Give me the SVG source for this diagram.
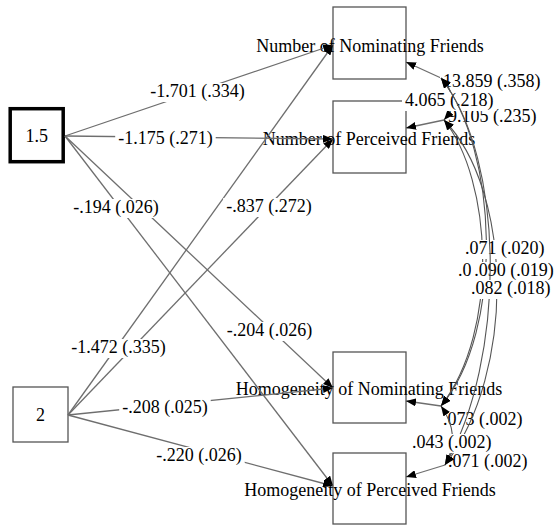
<svg xmlns="http://www.w3.org/2000/svg" width="557" height="527" viewBox="0 0 557 527">
<style>
text{font-family:"Liberation Serif","Times New Roman",serif;font-size:18px;fill:#000}
.box{fill:#fff;stroke:#555;stroke-width:1.3}
.thick{fill:#fff;stroke:#000;stroke-width:3.5}
.e{fill:none;stroke:#6e6e6e;stroke-width:1.3;marker-end:url(#ah)}
.c{fill:none;stroke:#555;stroke-width:1.1;marker-start:url(#ah);marker-end:url(#ah)}
.bg{fill:#fff}
.m{text-anchor:middle}
</style>
<defs>
<marker id="ah" viewBox="0 0 10 8" refX="10" refY="4" markerWidth="10" markerHeight="8" markerUnits="userSpaceOnUse" orient="auto-start-reverse"><path d="M0,0 L10,4 L0,8 z" fill="#000"/></marker>
</defs>
<g id="nodes">
<g id="n15"><rect class="thick" x="10.2" y="108.7" width="53" height="53"/><text class="m" x="36.7" y="142">1.5</text></g>
<g id="n2"><rect class="box" x="13" y="387" width="55" height="55"/><text class="m" x="40.5" y="421">2</text></g>
<g id="nnf"><rect class="box" x="333" y="7" width="73" height="72"/><text class="m" x="370" y="52">Number of Nominating Friends</text></g>
<g id="npf"><rect class="box" x="333" y="101" width="73" height="72"/><text class="m" x="369" y="145">Number of Perceived Friends</text></g>
<g id="hnf"><rect class="box" x="333" y="352" width="73" height="71"/><text class="m" x="369" y="395">Homogeneity of Nominating Friends</text></g>
<g id="hpf"><rect class="box" x="333" y="453" width="73" height="71"/><text class="m" x="370" y="496">Homogeneity of Perceived Friends</text></g>
</g>
<g id="connectors">
<path class="e" d="M65,136 L333,45"/>
<path class="e" d="M65,136 L333,139"/>
<path class="e" d="M65,136 L333,388"/>
<path class="e" d="M65,136 L333,486"/>
<path class="e" d="M68,415 L333,45"/>
<path class="e" d="M68,415 L333,139"/>
<path class="e" d="M68,415 L333,388"/>
<path class="e" d="M68,415 L333,486"/>
<rect class="bg" x="147.2" y="83" width="100.5" height="19"/><text class="m" x="197.5" y="97">-1.701 (.334)</text>
<rect class="bg" x="115.2" y="130" width="100.5" height="19"/><text class="m" x="165.5" y="144">-1.175 (.271)</text>
<rect class="bg" x="223.7" y="322" width="91.5" height="19"/><text class="m" x="269.5" y="336">-.204 (.026)</text>
<rect class="bg" x="70.2" y="199" width="91.5" height="19"/><text class="m" x="116" y="213">-.194 (.026)</text>
<rect class="bg" x="68.2" y="339" width="100.5" height="19"/><text class="m" x="118.5" y="353">-1.472 (.335)</text>
<rect class="bg" x="223.2" y="198" width="91.5" height="19"/><text class="m" x="269" y="212">-.837 (.272)</text>
<rect class="bg" x="119.2" y="399" width="91.5" height="19"/><text class="m" x="165" y="413">-.208 (.025)</text>
<rect class="bg" x="153.2" y="447" width="91.5" height="19"/><text class="m" x="199" y="461">-.220 (.026)</text>

<path class="e" d="M441,78 L406,62"/>
<path class="e" d="M444,120 L406,128"/>
<path class="e" d="M441,406 L406,401"/>
<path class="e" d="M445,465 L406,477"/>
<rect class="bg" x="440" y="73" width="103.5" height="19"/><text class="m" x="491.75" y="87">13.859 (.358)</text>
<rect class="bg" x="445" y="108" width="94.5" height="19"/><text class="m" x="492.25" y="122">9.105 (.235)</text>
<rect class="bg" x="440" y="411" width="85.5" height="19"/><text class="m" x="482.75" y="425">.073 (.002)</text>
<rect class="bg" x="445" y="453" width="85.5" height="19"/><text class="m" x="487.75" y="467">.071 (.002)</text>

<path class="c" d="M441,78 Q462,99 444,120"/>
<rect class="bg" x="402" y="92" width="94.5" height="19"/><text class="m" x="449.25" y="106">4.065 (.218)</text>

<path class="c" d="M441,78 C498,150 505,330 441,406"/>
<path class="c" d="M444,120 C492,180 500,330 441,406"/>
<path class="c" d="M444,120 C512,190 517,370 445,465"/>
<text x="458" y="276">.07</text>
<rect class="bg" x="462" y="240" width="85.5" height="19"/><text class="m" x="504.75" y="254">.071 (.020)</text>
<rect class="bg" x="471.5" y="262" width="85.5" height="19"/><text class="m" x="514" y="276">.090 (.019)</text>
<path class="c" d="M441,78 C506,160 506,360 445,465"/>
<rect class="bg" x="468" y="280" width="85.5" height="19"/><text class="m" x="510.75" y="294">.082 (.018)</text>

<path class="c" d="M441,406 Q462,436 445,465"/>
<rect class="bg" x="409" y="434" width="85.5" height="19"/><text class="m" x="451.75" y="448">.043 (.002)</text>
</g>
</svg>
